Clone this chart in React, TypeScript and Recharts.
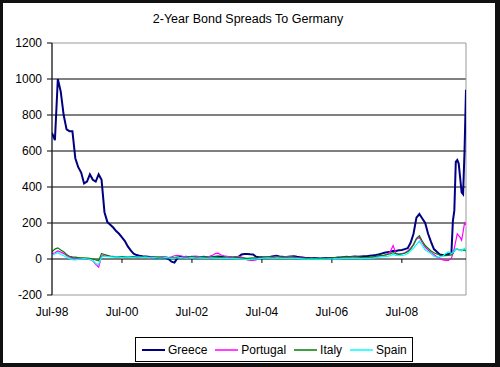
import { LineChart, Line, XAxis, YAxis, CartesianGrid, ReferenceLine, ReferenceArea } from 'recharts';

// month index, 0 = Jul-98 (last stretch in half months)
const months = [
  0, 1, 2, 3, 4, 5, 6, 7, 8, 9,
  10, 11, 12, 13, 14, 15, 16, 17, 18, 19,
  20, 21, 22, 23, 24, 25, 26, 27, 28, 29,
  30, 31, 32, 33, 34, 35, 36, 37, 38, 39,
  40, 41, 42, 43, 44, 45, 46, 47, 48, 49,
  50, 51, 52, 53, 54, 55, 56, 57, 58, 59,
  60, 61, 62, 63, 64, 65, 66, 67, 68, 69,
  70, 71, 72, 73, 74, 75, 76, 77, 78, 79,
  80, 81, 82, 83, 84, 85, 86, 87, 88, 89,
  90, 91, 92, 93, 94, 95, 96, 97, 98, 99,
  100, 101, 102, 103, 104, 105, 106, 107, 108, 109,
  110, 111, 112, 113, 114, 115, 116, 117, 118, 119,
  120, 121, 122, 123, 124, 125, 126, 127, 128, 129,
  130, 131, 132, 133, 134, 135, 136, 137,
  137.5, 138, 138.5, 139, 139.5, 140, 140.5, 141, 141.5, 142,
];

const greece = [
  700, 660, 1000, 930, 800, 720, 710, 710, 560, 510,
  480, 420, 430, 470, 440, 430, 470, 440, 260, 205,
  190, 175, 155, 140, 120, 100, 70, 48, 30, 22,
  18, 15, 14, 12, 10, 8, 6, 5, 8, 6,
  0, -15, -20, 5, 12, 10, 12, 10, 12, 10,
  8, 10, 12, 10, 8, 10, 12, 14, 12, 10,
  8, 10, 8, 10, 12, 25, 28, 28, 26, 25,
  12, 10, 10, 8, 10, 12, 15, 18, 14, 12,
  10, 12, 14, 15, 12, 10, 8, 6, 5, 4,
  5, 4, 3, 4, 5, 6, 5, 6, 8, 8,
  10, 12, 10, 12, 14, 12, 14, 15, 15, 18,
  20, 22, 25, 30, 35, 38, 40, 45, 45, 48,
  50, 55, 60, 90, 140, 230, 250, 225, 200, 140,
  95, 55, 40, 25, 22, 22, 28, 33,
  210, 270, 540, 550, 530, 450, 370, 360, 600, 940,
];

const portugal = [
  30, 35, 45, 38, 30, 20, 10, 8, 5, 6,
  4, 2, 0, -3, -10, -30, -45, 15, 22, 18,
  16, 15, 12, 14, 12, 10, 12, 14, 12, 13,
  12, 14, 12, 10, 12, 10, 8, 10, 12, 10,
  8, 12, 18, 20, 18, 15, 14, 12, 14, 16,
  15, 12, 10, 12, 15, 20, 30, 32, 22, 18,
  15, 12, 10, 12, 14, 10, 5, -5, -8, -8,
  -5, 5, 8, 10, 12, 10, 12, 15, 12, 10,
  12, 14, 12, 10, 8, 6, 5, 4, 3, 2,
  3, 2, 1, 2, 3, 4, 5, 8, 6, 5,
  8, 10, 8, 12, 10, 8, 6, 5, 5, 6,
  8, 10, 15, 18, 20, 25, 40, 75, 30, 28,
  30, 35, 45, 60, 80, 110, 120, 90, 65, 50,
  35, 25, 12, 5, -5, -8, -8, 5,
  30, 60, 100, 140, 130, 120, 105, 150, 200, 190,
];

const italy = [
  40, 55, 62, 50, 40, 25, 15, 12, 10, 8,
  7, 6, 5, 3, 0, -5, -10, 30, 25, 20,
  15, 14, 12, 10, 12, 14, 12, 14, 12, 10,
  12, 10, 12, 10, 8, 10, 12, 10, 8, 10,
  8, 6, 8, 10, 8, 6, 8, 10, 12, 10,
  8, 10, 12, 10, 8, 10, 12, 10, 8, 10,
  8, 6, 8, 10, 8, 6, 5, 4, 5, 6,
  5, 6, 8, 10, 12, 10, 8, 10, 12, 10,
  8, 10, 9, 8, 6, 5, 4, 3, 2, 3,
  2, 3, 2, 3, 4, 5, 6, 8, 7, 8,
  10, 12, 10, 12, 14, 12, 10, 8, 8, 10,
  12, 15, 18, 20, 22, 25, 28, 35, 30, 25,
  28, 32, 40, 55, 80, 115, 130, 100, 75, 60,
  45, 35, 28, 22, 18, 18, 20, 22,
  30, 45, 55, 55, 52, 50, 50, 48, 50, 45,
];

const spain = [
  22, 28, 35, 25, 18, 10, 2, -3, -5, -2,
  0, 2, 0, -2, -8, -25, -30, 10, 15, 14,
  12, 10, 12, 10, 8, 10, 12, 10, 8, 10,
  10, 8, 10, 8, 6, 8, 6, 5, 6, 8,
  6, 4, 5, 6, 8, 6, 5, 6, 8, 6,
  5, 6, 5, 4, 5, 6, 5, 4, 3, 4,
  5, 4, 3, 2, 1, 0, -2, -3, -2, -1,
  0, 2, 3, 5, 6, 5, 4, 6, 5, 4,
  3, 4, 5, 4, 3, 2, 1, 0, -1, 0,
  -1, 0, -2, -1, 0, 1, 0, 2, 1, 2,
  3, 4, 3, 5, 4, 3, 2, 3, 3, 4,
  5, 8, 10, 12, 15, 15, 18, 25, 20, 18,
  20, 22, 30, 45, 60, 80, 100, 75, 50, 40,
  30, 15, 10, 12, 15, 30, 40, 30,
  35, 45, 55, 55, 50, 50, 45, 55, 60, 50,
];

const xTicks = [0, 24, 48, 72, 96, 120];
const xTickLabels = ['Jul-98', 'Jul-00', 'Jul-02', 'Jul-04', 'Jul-06', 'Jul-08'];
const yTicks = [-200, 0, 200, 400, 600, 800, 1000, 1200];

const series = [
  { key: 'greece', name: 'Greece', color: '#000080', width: 2 },
  { key: 'portugal', name: 'Portugal', color: '#ff00ff', width: 1.2 },
  { key: 'italy', name: 'Italy', color: '#008000', width: 1.2 },
  { key: 'spain', name: 'Spain', color: '#00ffff', width: 1.2 },
];

const data = months.map((m, i) => ({
  m,
  greece: greece[i],
  portugal: portugal[i],
  italy: italy[i],
  spain: spain[i],
}));

const font = '"Liberation Sans", Arial, sans-serif';

export default function App() {
  return (
    <div style={{ position: 'absolute', left: 0, top: 0, width: 500, height: 367, background: '#fff', fontFamily: font }}>
      <div style={{ position: 'absolute', top: 12, left: 0, width: 496, textAlign: 'center', fontSize: 12.5, color: '#000' }}>
        2-Year Bond Spreads To Germany
      </div>

      <LineChart width={500} height={367} data={data} margin={{ top: 43, right: 34, left: 0, bottom: 0 }}>
        <CartesianGrid vertical={false} horizontalValues={[200, 400, 600, 800, 1000]} stroke="#000" strokeDasharray="" />
        <ReferenceArea x1={0} x2={142} y1={-200} y2={1200} fill="none" stroke="#999" ifOverflow="visible" />
        <XAxis
          dataKey="m"
          type="number"
          domain={[0, 142]}
          ticks={xTicks}
          allowDataOverflow
          axisLine={false}
          tickLine={false}
          tickSize={0}
          tickMargin={12}
          height={72}
          interval={0}
          tick={{ fill: '#000', fontSize: 12, fontFamily: font }}
          tickFormatter={(v: number) => xTickLabels[xTicks.indexOf(v)]}
        />
        <YAxis
          domain={[-200, 1200]}
          ticks={yTicks}
          allowDataOverflow
          width={52}
          axisLine={{ stroke: '#000' }}
          tickLine={{ stroke: '#000' }}
          tickSize={5}
          tickMargin={5}
          interval={0}
          tick={{ fill: '#000', fontSize: 12, fontFamily: font }}
        />
        <ReferenceLine y={0} stroke="#000" />
        {xTicks.slice(1).map((t) => (
          <ReferenceLine key={t} segment={[{ x: t, y: 0 }, { x: t, y: -22 }]} stroke="#000" />
        ))}
        {series.map((s) => (
          <Line
            key={s.key}
            dataKey={s.key}
            name={s.name}
            type="linear"
            stroke={s.color}
            strokeWidth={s.width}
            dot={false}
            isAnimationActive={false}
          />
        ))}
      </LineChart>

      <div
        style={{
          position: 'absolute',
          left: 135,
          top: 337,
          width: 278,
          height: 25,
          boxSizing: 'border-box',
          border: '1px solid #000',
          display: 'flex',
          alignItems: 'center',
          paddingLeft: 6,
          fontSize: 12,
          color: '#000',
        }}
      >
        {series.map((s) => (
          <div key={s.key} style={{ display: 'flex', alignItems: 'center', marginRight: 8 }}>
            <svg width={23} height={6} style={{ marginRight: 3, display: 'block' }}>
              <line x1={0} y1={3} x2={23} y2={3} stroke={s.color} strokeWidth={s.key === 'greece' ? 2 : 1.5} />
            </svg>
            <span>{s.name}</span>
          </div>
        ))}
      </div>

      <div
        style={{
          position: 'absolute',
          left: 0,
          top: 0,
          width: 500,
          height: 367,
          boxSizing: 'border-box',
          borderStyle: 'solid',
          borderColor: '#111',
          borderWidth: '3px 5px 4px 3px',
          pointerEvents: 'none',
        }}
      />
    </div>
  );
}
